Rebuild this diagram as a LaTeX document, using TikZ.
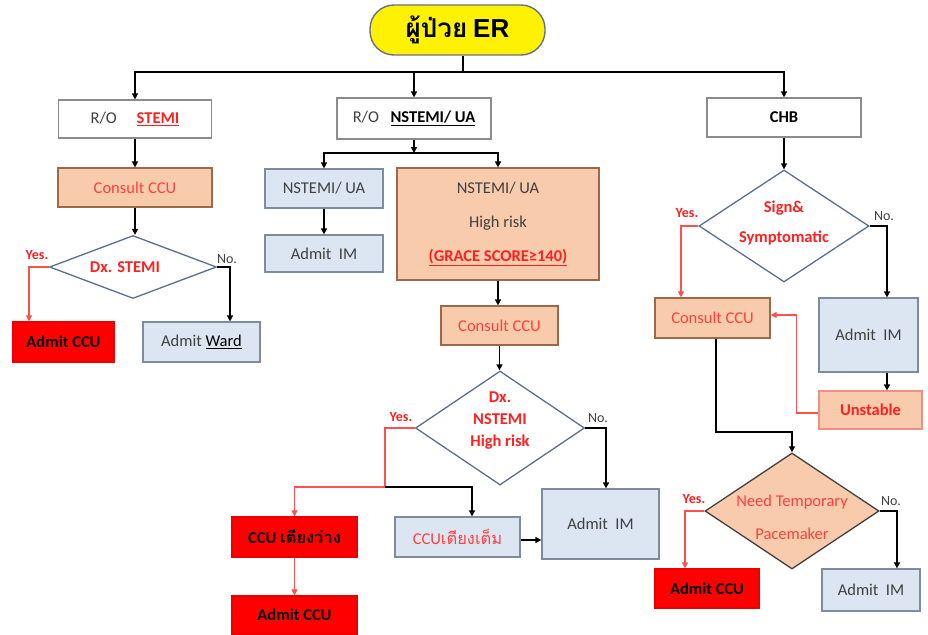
\documentclass[tikz,border=0pt]{standalone}
\usepackage{fontspec}
\setmainfont{Carlito}
\newfontfamily\thaifont[Script=Thai]{Loma}
\newfontfamily\arialfont{Liberation Sans}
\usetikzlibrary{shapes.geometric,arrows.meta}
\definecolor{lblue}{HTML}{DCE6F2}
\definecolor{bluegray}{HTML}{7F8C9C}
\definecolor{peach}{HTML}{F8CBAD}
\definecolor{peachborder}{HTML}{9A6A4A}
\definecolor{boxgray}{HTML}{8C8C8C}
\definecolor{ccured}{HTML}{FF4040}
\definecolor{stemired}{HTML}{FF2020}
\definecolor{slate}{HTML}{5B6F8E}
\definecolor{linered}{HTML}{FF5050}
\definecolor{txtgray}{HTML}{404040}
\definecolor{ergray}{HTML}{6A7080}
\definecolor{unsborder}{HTML}{F09080}
\begin{document}
\begin{tikzpicture}[x=1pt,y=-1pt,
  sz/.style 2 args={minimum width=#1pt, minimum height=#2pt},
  base/.style={rectangle, draw, inner sep=0pt, align=center, line width=1.2pt,
    font=\fontsize{16.5}{20}\selectfont, text=txtgray},
  wbox/.style={base, fill=white, draw=boxgray},
  bbox/.style={base, fill=lblue, draw=bluegray},
  pbox/.style={base, fill=peach, draw=peachborder, text=ccured},
  rbox/.style={base, fill=red, draw=red!92!black, text=black,
    font=\fontsize{16.5}{20}\selectfont\bfseries},
  dia/.style={diamond, draw=slate, line width=1.3pt, inner sep=0pt, fill=white},
  dtext/.style={inner sep=0pt, align=center, text=stemired,
    font=\fontsize{16.5}{20}\selectfont\bfseries},
  arr/.style={-{Triangle[length=6pt,width=6pt]}, line width=1.6pt, black},
  rarr/.style={-{Triangle[length=6pt,width=6pt]}, line width=1.1pt, linered},
  yeslab/.style={inner sep=0pt, text=stemired, font=\fontsize{14}{16}\selectfont\bfseries},
  nolab/.style={inner sep=0pt, text=txtgray, font=\fontsize{14}{16}\selectfont}
]
\useasboundingbox (0,0) rectangle (928,634);
\fill[white] (0,0) rectangle (928,634);

% top
\node[draw=ergray, fill=yellow, line width=1.4pt, rounded corners=24pt, sz={175}{50}, inner sep=0pt,
  font=\fontsize{26}{30}\selectfont] (er) at (457.5,30)
  {{\thaifont\bfseries ผู้ป่วย} {\arialfont\bfseries ER}};
\coordinate (hub) at (463,72);

% level 1
\node[wbox, sz={153}{38}] (ro1) at (135,119) {R/O\hspace{1.2em}\textcolor{stemired}{\bfseries\underline{STEMI}}};
\node[wbox, sz={154}{41}] (ro2) at (414,118.5) {R/O\hspace{0.7em}{\bfseries\color{black}\underline{NSTEMI/ UA}}};
\node[wbox, sz={154}{39}] (chb) at (784,117.5) {\bfseries\color{black}CHB};

\draw[line width=1.6pt] (er.south -| hub) -- (hub);
\draw[arr] (hub) -| (ro1.north);
\draw[arr] (hub) -| (chb.north);
\draw[arr] (ro2.north |- hub) -- (ro2.north);

% left branch
\node[pbox, sz={154}{39}] (cc1) at (135,187.5) {Consult CCU};
\node[dia, sz={167}{63}] (d1) at (133,267) {};
\node[dtext] (d1t) at (125,267) {Dx. STEMI};
\node[rbox, sz={101}{40}] (ac1) at (63.5,342) {Admit CCU};
\node[bbox, sz={117}{40}] (ward) at (201.5,342) {Admit {\color{black}\underline{Ward}}};
\node[yeslab] (y1) at (37,255) {Yes.};
\node[nolab] (n1) at (227,259) {No.};

\draw[arr] (ro1.south) -- (cc1.north);
\draw[arr] (cc1.south) -- (cc1.south |- d1.north);
\draw[rarr] (d1.west) -| ([xshift=-34.5pt]ac1.north);
\draw[arr] (d1.east) -| ([xshift=28.5pt]ward.north);

% middle branch
\coordinate (split) at (414,153);
\node[bbox, sz={118}{39}] (ns1) at (324,188.5) {NSTEMI/ UA};
\node[bbox, sz={118}{37}] (im1) at (324,253.5) {Admit\ \ IM};
\node[pbox, sz={202}{112}, text=txtgray] (hr) at (498,224)
  {NSTEMI/ UA\\[14pt] High risk\\[14pt] {\color{stemired}\bfseries\underline{(GRACE SCORE≥140)}}};
\node[pbox, sz={117}{39}] (cc2) at (499.5,325.5) {Consult CCU};
\node[dia, sz={169}{114}] (d2) at (500,428) {};
\node[dtext] (d2t) at (500,421) {Dx.\\[2pt] NSTEMI\\[2pt] High risk};
\node[yeslab] (y2) at (401,417) {Yes.};
\node[nolab] (n2) at (598,418) {No.};
\coordinate (fork) at (385,487);
\node[rbox, sz={125}{40}] (ccuv) at (294.5,537) {CCU {\thaifont\bfseries เตียงว่าง}};
\node[rbox, sz={125}{38}] (ac2) at (294.5,615) {Admit CCU};
\node[bbox, sz={125}{40}, text=ccured] (ccuf) at (457.5,537) {CCU{\thaifont เตียงเต็ม}};
\node[bbox, sz={117}{70}] (im2) at (600.5,524) {Admit\ \ IM};

\draw[arr] (ro2.south) -- (split);
\draw[arr] (split) -| (ns1.north);
\draw[arr] (split) -| (hr.north);
\draw[arr] (ns1.south) -- (im1.north);
\draw[arr] (hr.south) -- (hr.south |- cc2.north);
\draw[arr] (cc2.south) -- (cc2.south |- d2.north);
\draw[line width=1.1pt, linered] (d2.west) -| (fork);
\draw[rarr] (fork) -| (ccuv.north);
\draw[arr] (fork) -| ([xshift=14.5pt]ccuf.north);
\draw[rarr] (ccuv.south) -- (ac2.north);
\draw[arr] ([yshift=-3pt]ccuf.east) -- ([yshift=-3pt]ccuf.east -| im2.west);
\draw[arr] (d2.east) -| ([xshift=5.5pt]im2.north);

% right branch
\node[dia, sz={170}{112}] (d3) at (784,226) {};
\node[dtext] (d3t) at (784,223) {Sign\&\\[10pt] Symptomatic};
\node[yeslab] (y3) at (687,213) {Yes.};
\node[nolab] (n3) at (884,216) {No.};
\node[pbox, sz={115}{40}] (cc3) at (712.5,318) {Consult CCU};
\node[bbox, sz={99}{74}] (im3) at (868.5,335) {Admit\ \ IM};
\node[base, fill=peach, draw=unsborder, sz={103}{38}, text=stemired,
  font=\fontsize{16.5}{20}\selectfont\bfseries] (uns) at (870.5,410) {Unstable};
\node[diamond, draw=txtgray, fill=peach, line width=1.3pt, inner sep=0pt, sz={174}{116}] (d4) at (792,511) {};
\node[inner sep=0pt, align=center, text=ccured, font=\fontsize{16.5}{20}\selectfont] (d4t) at (792,517)
  {Need Temporary\\[13pt] Pacemaker};
\node[yeslab] (y4) at (694,499) {Yes.};
\node[nolab] (n4) at (891,501) {No.};
\node[rbox, sz={104}{39}] (ac3) at (707,588.5) {Admit CCU};
\node[bbox, sz={98}{42}] (im4) at (871,590) {Admit\ \ IM};
\coordinate (x887) at (887,0);
\coordinate (bend) at (0,432);

\draw[arr] (chb.south) -- (d3.north);
\draw[rarr] (d3.west) -| ([xshift=-31.5pt]cc3.north);
\draw[arr] (d3.east) -| ([xshift=18.5pt]im3.north);
\draw[arr] (im3.south -| x887) -- (uns.north -| x887);
\draw[rarr] ([yshift=-3pt]uns.west) -- ++(-22,0) |- ([yshift=3pt]cc3.east);
\draw[arr] ([xshift=3.5pt]cc3.south) -- ([xshift=3.5pt]cc3.south |- bend) -| (d4.north);
\draw[rarr] (d4.west) -| ([xshift=-22pt]ac3.north);
\draw[arr] (d4.east) -| ([xshift=26pt]im4.north);
\end{tikzpicture}
\end{document}
